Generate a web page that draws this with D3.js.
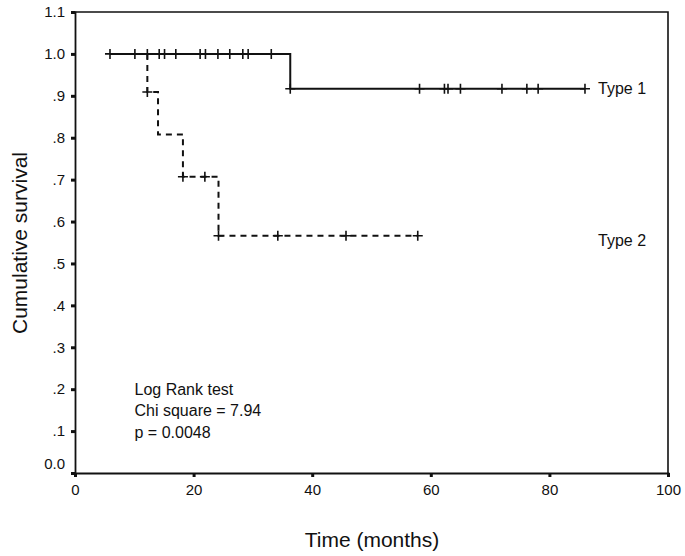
<!DOCTYPE html>
<html><head><meta charset="utf-8">
<script src="https://cdn.jsdelivr.net/npm/d3@7"></script>
<style>body{margin:0;background:#fff}svg{display:block}text{font-family:"Liberation Sans",Arial,sans-serif;fill:#111}</style>
</head><body><svg id="c" width="685" height="556"></svg>
<script>
// Type 1 step curve: [time, survival]
const type1Steps = [[5.9,1.0],[36.3,1.0],[36.3,0.917],[86.0,0.917]];
const type1Censored = [[5.9,1.0],[10.1,1.0],[12.2,1.0],[14.2,1.0],[15.1,1.0],[17.0,1.0],[21.1,1.0],[22.0,1.0],[24.1,1.0],[26.1,1.0],[28.3,1.0],[29.2,1.0],[33.1,1.0],[36.3,0.917],[58.1,0.917],[62.3,0.917],[62.9,0.917],[65.0,0.917],[72.0,0.917],[76.2,0.917],[78.1,0.917],[86.0,0.917]];
const type2Steps = [[12.2,1.0],[12.2,0.909],[14.0,0.909],[14.0,0.808],[18.2,0.808],[18.2,0.707],[24.2,0.707],[24.2,0.566],[57.8,0.566]];
const type2Censored = [[12.2,0.909],[18.2,0.707],[21.9,0.707],[24.2,0.566],[34.2,0.566],[45.7,0.566],[57.8,0.566]];
const xTicks = [0,20,40,60,80,100];
const yTicks = [0,0.1,0.2,0.3,0.4,0.5,0.6,0.7,0.8,0.9,1.0,1.1];
const yTickLabels = ["0.0",".1",".2",".3",".4",".5",".6",".7",".8",".9","1.0","1.1"];
const annotation = ["Log Rank test","Chi square = 7.94","p = 0.0048"];

const svg = d3.select("#c");
const x = d3.scaleLinear().domain([0,100]).range([75,668]);
const y = d3.scaleLinear().domain([0,1.1]).range([473,12]);

// frame
svg.append("path").attr("d",`M${x(0)},${y(1.1)}H${x(100)}V${y(0)}`).attr("fill","none").attr("stroke","#111").attr("stroke-width",1.6);

const xAxis = d3.axisBottom(x).tickValues(xTicks).tickSize(4).tickPadding(7).tickFormat(d3.format("d"));
const gx = svg.append("g").attr("transform",`translate(0,${y(0)})`).call(xAxis);
const yAxis = d3.axisLeft(y).tickValues(yTicks).tickSize(4).tickPadding(6).tickFormat((d,i)=>yTickLabels[i]);
const gy = svg.append("g").attr("transform",`translate(${x(0)},0)`).call(yAxis);
[gx,gy].forEach(g=>{
  g.select(".domain").attr("stroke","#111").attr("stroke-width",1.8);
  g.selectAll(".tick line").attr("stroke","#111").attr("stroke-width",3);
  g.selectAll(".tick text").attr("font-size",15).attr("font-family",'"Liberation Sans",Arial,sans-serif').attr("fill","#111");
});
// lift the 0.0 label clear of the x-axis label
gy.selectAll(".tick text").filter(d=>d===0).attr("dy","-0.32em");

const line = d3.line().x(d=>x(d[0])).y(d=>y(d[1]));
svg.append("path").datum(type1Steps).attr("d",line).attr("fill","none").attr("stroke","#111").attr("stroke-width",2);
svg.append("path").datum(type2Steps).attr("d",line).attr("fill","none").attr("stroke","#111").attr("stroke-width",2).attr("stroke-dasharray","6,5");

function censor(data){
  const g = svg.append("g");
  g.selectAll("path").data(data).join("path")
    .attr("d",d=>`M${x(d[0])},${y(d[1])-5}v10M${x(d[0])-5},${y(d[1])}h10`)
    .attr("stroke","#111").attr("stroke-width",1.6).attr("fill","none");
}
censor(type1Censored);
censor(type2Censored);

svg.append("text").attr("x",598).attr("y",94).attr("font-size",16).text("Type 1");
svg.append("text").attr("x",598).attr("y",246).attr("font-size",16).text("Type 2");

svg.append("g").selectAll("text").data(annotation).join("text")
  .attr("x",134.5).attr("y",(d,i)=>395+i*21.3).attr("font-size",16).text(d=>d);

svg.append("text").attr("x",372).attr("y",547).attr("text-anchor","middle").attr("font-size",21).text("Time (months)");
svg.append("text").attr("transform","translate(27,243) rotate(-90)").attr("text-anchor","middle").attr("font-size",21).text("Cumulative survival");
</script></body></html>
